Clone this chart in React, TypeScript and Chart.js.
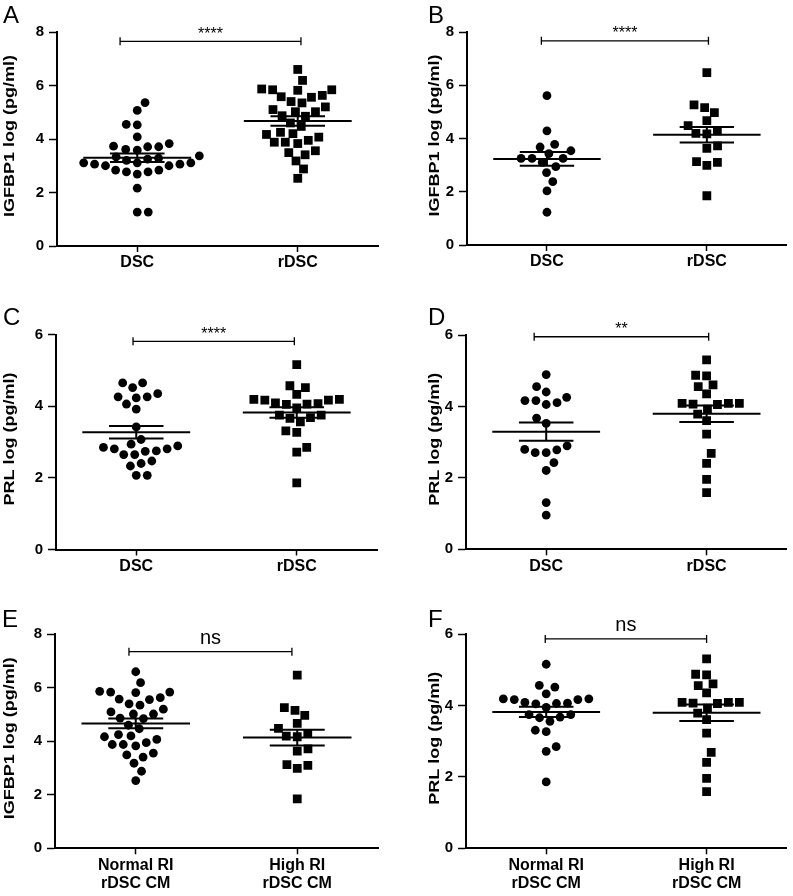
import React, { useEffect, useRef } from 'react';
import { Chart, registerables } from 'chart.js';

Chart.register(...registerables);

const FONT = '"Liberation Sans", Arial, Helvetica, sans-serif';

// ---------------- DATA ----------------
// Panel A: IGFBP1 (log pg/ml)
const IGFBP1_DSC_A = [5.36, 5.07, 4.55, 4.53, 4.08, 3.83, 3.73, 3.71, 3.71, 3.61, 3.58, 3.37, 3.33, 3.28, 3.25, 3.20, 3.11, 3.11, 3.11, 3.06, 3.06, 3.00, 3.00, 2.84, 2.84, 2.77, 2.77, 2.69, 2.16, 1.27, 1.27];
const IGFBP1_RDSC_A = [6.60, 6.19, 5.87, 5.84, 5.84, 5.82, 5.63, 5.58, 5.56, 5.40, 5.35, 5.20, 5.10, 5.02, 5.02, 4.87, 4.85, 4.60, 4.47, 4.25, 4.20, 4.17, 4.07, 3.95, 3.88, 3.88, 3.83, 3.56, 3.49, 3.41, 3.18, 2.88, 2.53];
// Panel B: IGFBP1
const IGFBP1_DSC_B = [5.61, 4.29, 3.78, 3.68, 3.54, 3.43, 3.25, 3.25, 3.25, 3.10, 2.94, 2.72, 2.38, 2.03, 1.23];
const IGFBP1_RDSC_B = [6.47, 5.26, 5.16, 4.97, 4.67, 4.48, 4.29, 4.19, 4.17, 3.72, 3.63, 3.13, 3.10, 2.99, 1.85];
// Panel C: PRL
const PRL_DSC_C = [4.65, 4.65, 4.52, 4.35, 4.26, 4.26, 4.23, 4.06, 3.92, 3.42, 3.07, 2.94, 2.89, 2.85, 2.81, 2.81, 2.75, 2.74, 2.65, 2.65, 2.47, 2.40, 2.33, 2.07, 2.07];
const PRL_RDSC_C = [5.16, 4.57, 4.52, 4.33, 4.19, 4.19, 4.17, 4.17, 4.09, 4.07, 4.06, 4.05, 3.95, 3.75, 3.75, 3.68, 3.66, 3.56, 3.31, 3.27, 2.85, 2.72, 1.86];
// Panel D: PRL
const PRL_DSC_D = [4.90, 4.56, 4.41, 4.26, 4.17, 4.17, 4.11, 4.06, 3.68, 3.53, 2.90, 2.80, 2.79, 2.71, 2.71, 2.43, 2.21, 1.31, 0.96];
const PRL_RDSC_D = [5.31, 4.88, 4.86, 4.61, 4.56, 4.36, 4.09, 4.09, 4.09, 4.07, 4.06, 3.93, 3.79, 3.61, 3.23, 2.69, 2.41, 1.96, 1.59];
// Panel E: IGFBP1, Normal RI vs High RI rDSC CM
const IGFBP1_NORMAL_RI_E = [6.60, 6.19, 5.87, 5.84, 5.84, 5.82, 5.63, 5.58, 5.56, 5.40, 5.35, 5.20, 5.10, 5.02, 5.02, 4.87, 4.85, 4.60, 4.47, 4.25, 4.20, 4.17, 4.07, 3.95, 3.88, 3.88, 3.83, 3.56, 3.49, 3.41, 3.18, 2.88, 2.53];
const IGFBP1_HIGH_RI_E = [6.47, 5.26, 5.16, 4.97, 4.67, 4.48, 4.29, 4.19, 4.17, 3.72, 3.63, 3.13, 3.10, 2.99, 1.85];
// Panel F: PRL, Normal RI vs High RI rDSC CM
const PRL_NORMAL_RI_F = [5.16, 4.57, 4.52, 4.33, 4.19, 4.19, 4.17, 4.17, 4.09, 4.07, 4.06, 4.05, 3.95, 3.75, 3.75, 3.68, 3.66, 3.56, 3.31, 3.27, 2.85, 2.72, 1.86];
const PRL_HIGH_RI_F = [5.31, 4.88, 4.86, 4.61, 4.56, 4.36, 4.09, 4.09, 4.09, 4.07, 4.06, 3.93, 3.79, 3.61, 3.23, 2.69, 2.41, 1.96, 1.59];

const DSC_LABELS: (string | string[])[] = ['DSC', 'rDSC'];
const RI_LABELS: (string | string[])[] = [['Normal RI', 'rDSC CM'], ['High RI', 'rDSC CM']];
const IGFBP1_TICKS = [0, 2, 4, 6, 8];
const PRL_TICKS = [0, 2, 4, 6];
const IGFBP1_TITLE = 'IGFBP1 log (pg/ml)';
const PRL_TITLE = 'PRL log (pg/ml)';

// ---------------- STYLE / LAYOUT ----------------
const MEAN_HALF = 0.336;
const CAP_HALF = 0.17;
const SWARM_D = 11;
const CIRCLE_R = 4.4;
const SQUARE_R = 6.2;

type Panel = {
  letter: string;
  left: number; top: number; width: number; height: number;
  area: { left: number; top: number; right: number; bottom: number };
  yMax: number; yTicks: number[]; yTitle: string; xLabels: (string | string[])[];
  g0: number[]; g1: number[];
  sig: string; bracketY: number; bracket: [number, number];
  titleX: number; letterPos: [number, number];
};

const PANELS: Panel[] = [
  { letter: 'A', left: 0, top: 0, width: 390, height: 280, area: { left: 57, top: 32, right: 378, bottom: 246 },
    yMax: 8, yTicks: IGFBP1_TICKS, yTitle: IGFBP1_TITLE, xLabels: DSC_LABELS, g0: IGFBP1_DSC_A, g1: IGFBP1_RDSC_A,
    sig: '****', bracketY: 7.65, bracket: [-0.107, 1.02], titleX: 10, letterPos: [3, 23] },
  { letter: 'B', left: 420, top: 0, width: 373, height: 280, area: { left: 47, top: 32, right: 368, bottom: 245 },
    yMax: 8, yTicks: IGFBP1_TICKS, yTitle: IGFBP1_TITLE, xLabels: DSC_LABELS, g0: IGFBP1_DSC_B, g1: IGFBP1_RDSC_B,
    sig: '****', bracketY: 7.67, bracket: [-0.035, 1.01], titleX: 15, letterPos: [8, 23] },
  { letter: 'C', left: 0, top: 290, width: 390, height: 290, area: { left: 56, top: 44.5, right: 377, bottom: 259.5 },
    yMax: 6, yTicks: PRL_TICKS, yTitle: PRL_TITLE, xLabels: DSC_LABELS, g0: PRL_DSC_C, g1: PRL_RDSC_C,
    sig: '****', bracketY: 5.81, bracket: [-0.02, 0.985], titleX: 10, letterPos: [3, 35] },
  { letter: 'D', left: 420, top: 290, width: 373, height: 290, area: { left: 46, top: 45.3, right: 367, bottom: 259.3 },
    yMax: 6, yTicks: PRL_TICKS, yTitle: PRL_TITLE, xLabels: DSC_LABELS, g0: PRL_DSC_D, g1: PRL_RDSC_D,
    sig: '**', bracketY: 5.96, bracket: [-0.075, 1.013], titleX: 15, letterPos: [8, 35] },
  { letter: 'E', left: 0, top: 590, width: 390, height: 306, area: { left: 55, top: 44.3, right: 378, bottom: 258.3 },
    yMax: 8, yTicks: IGFBP1_TICKS, yTitle: IGFBP1_TITLE, xLabels: RI_LABELS, g0: IGFBP1_NORMAL_RI_E, g1: IGFBP1_HIGH_RI_E,
    sig: 'ns', bracketY: 7.35, bracket: [-0.042, 0.967], titleX: 10, letterPos: [2, 37] },
  { letter: 'F', left: 420, top: 590, width: 373, height: 306, area: { left: 46, top: 44.3, right: 367, bottom: 258.3 },
    yMax: 6, yTicks: PRL_TICKS, yTitle: PRL_TITLE, xLabels: RI_LABELS, g0: PRL_NORMAL_RI_F, g1: PRL_HIGH_RI_F,
    sig: 'ns', bracketY: 5.87, bracket: [-0.006, 1.0], titleX: 15, letterPos: [8, 37] },
];

// Beeswarm offsets (in x-axis units) derived from the values
function swarm(values: number[], pxX: number, pxY: number, d: number): number[] {
  const order = values.map((_, i) => i).sort((a, b) => values[a] - values[b]);
  const placed: { x: number; y: number }[] = [];
  const out = new Array(values.length).fill(0);
  let side = 1;
  for (const i of order) {
    const y = values[i] * pxY;
    const near = placed.filter((p) => Math.abs(p.y - y) < d);
    const cands = [0];
    for (const p of near) {
      const dx = Math.sqrt(d * d - (p.y - y) * (p.y - y));
      cands.push(p.x + dx, p.x - dx);
    }
    cands.sort((a, b) => {
      const diff = Math.abs(a) - Math.abs(b);
      if (Math.abs(diff) > 1e-6) return diff;
      return (b - a) * side;
    });
    let x = 0;
    for (const c of cands) {
      if (near.every((p) => (p.x - c) * (p.x - c) + (p.y - y) * (p.y - y) >= d * d - 1e-3)) { x = c; break; }
    }
    if (Math.abs(x) > 1e-6) side = x > 0 ? -1 : 1;
    placed.push({ x, y });
    out[i] = x / pxX;
  }
  return out;
}

function stats(vals: number[]) {
  const n = vals.length;
  const m = vals.reduce((s, v) => s + v, 0) / n;
  const sd = Math.sqrt(vals.reduce((s, v) => s + (v - m) * (v - m), 0) / (n - 1));
  return { m, sem: sd / Math.sqrt(n) };
}

function summarySegments(c: number, vals: number[]) {
  const { m, sem } = stats(vals);
  return [
    [{ x: c - MEAN_HALF, y: m }, { x: c + MEAN_HALF, y: m }],
    [{ x: c - CAP_HALF, y: m + sem }, { x: c + CAP_HALF, y: m + sem }],
    [{ x: c - CAP_HALF, y: m - sem }, { x: c + CAP_HALF, y: m - sem }],
    [{ x: c, y: m - sem }, { x: c, y: m + sem }],
  ];
}

function PanelChart({ p }: { p: Panel }) {
  const ref = useRef<HTMLCanvasElement>(null);
  useEffect(() => {
    const canvas = ref.current;
    if (!canvas) return;
    const a = p.area;
    const pxX = (a.right - a.left) / 2;
    const pxY = (a.bottom - a.top) / p.yMax;
    const j0 = swarm(p.g0, pxX, pxY, SWARM_D);
    const j1 = swarm(p.g1, pxX, pxY, SWARM_D);
    const pts0 = p.g0.map((v, i) => ({ x: 0 + j0[i], y: v }));
    const pts1 = p.g1.map((v, i) => ({ x: 1 + j1[i], y: v }));

    const lineSets = [...summarySegments(0, p.g0), ...summarySegments(1, p.g1)].map((seg) => ({
      type: 'line' as const,
      data: seg,
      borderColor: '#000',
      borderWidth: 2,
      pointRadius: 0,
      fill: false,
      borderCapStyle: 'butt' as const,
    }));

    const decor = {
      id: 'panelDecor',
      afterDraw(chart: any) {
        const { ctx, chartArea } = chart;
        const xs = chart.scales.x;
        const ys = chart.scales.y;
        ctx.save();
        ctx.fillStyle = '#000';
        ctx.strokeStyle = '#000';
        // panel letter
        ctx.font = `24px ${FONT}`;
        ctx.textAlign = 'left';
        ctx.textBaseline = 'alphabetic';
        ctx.fillText(p.letter, p.letterPos[0], p.letterPos[1]);
        // y title
        ctx.save();
        ctx.translate(p.titleX, (chartArea.top + chartArea.bottom) / 2 - 3);
        ctx.rotate(-Math.PI / 2);
        ctx.scale(1.2, 1);
        ctx.font = `bold 15px ${FONT}`;
        ctx.textAlign = 'center';
        ctx.textBaseline = 'middle';
        ctx.fillText(p.yTitle, 0, 0);
        ctx.restore();
        // significance bracket
        const x0 = xs.getPixelForValue(p.bracket[0]);
        const x1 = xs.getPixelForValue(p.bracket[1]);
        const yb = ys.getPixelForValue(p.bracketY);
        ctx.lineWidth = 1.3;
        ctx.beginPath();
        ctx.moveTo(x0, yb); ctx.lineTo(x1, yb);
        ctx.moveTo(x0, yb - 4); ctx.lineTo(x0, yb + 4);
        ctx.moveTo(x1, yb - 4); ctx.lineTo(x1, yb + 4);
        ctx.stroke();
        const isNs = p.sig === 'ns';
        ctx.font = `${isNs ? 20 : 16}px ${FONT}`;
        ctx.textAlign = 'center';
        ctx.textBaseline = 'alphabetic';
        ctx.fillText(p.sig, (x0 + x1) / 2, yb - (isNs ? 8 : 2.5));
        ctx.restore();
      },
    };

    const chart = new Chart(canvas, {
      type: 'scatter',
      data: {
        datasets: [
          ...lineSets,
          { data: pts0, pointStyle: 'circle', pointRadius: CIRCLE_R, pointHoverRadius: CIRCLE_R, backgroundColor: '#000', borderWidth: 0 },
          { data: pts1, pointStyle: 'rect', pointRadius: SQUARE_R, pointHoverRadius: SQUARE_R, backgroundColor: '#000', borderWidth: 0 },
        ] as any,
      },
      options: {
        responsive: false,
        animation: false,
        devicePixelRatio: 1,
        events: [],
        layout: { padding: { left: 0, top: a.top, right: p.width - a.right, bottom: 0 } },
        plugins: { legend: { display: false }, tooltip: { enabled: false } },
        scales: {
          x: {
            type: 'linear',
            min: -0.5,
            max: 1.5,
            afterBuildTicks: (s: any) => { s.ticks = [{ value: 0 }, { value: 1 }]; },
            afterFit: (s: any) => { s.height = p.height - a.bottom; },
            ticks: {
              callback: (v: any) => p.xLabels[v as number] as any,
              font: { family: FONT, size: 16, weight: 'bold', lineHeight: 1.12 },
              color: '#000',
              padding: 2,
              maxRotation: 0,
              minRotation: 0,
              autoSkip: false,
            },
            grid: { display: true, drawOnChartArea: false, drawTicks: true, tickLength: 6, tickWidth: 1.5, tickColor: '#000' },
            border: { display: true, color: '#000', width: 2 },
          },
          y: {
            type: 'linear',
            min: 0,
            max: p.yMax,
            afterBuildTicks: (s: any) => { s.ticks = p.yTicks.map((v) => ({ value: v })); },
            afterFit: (s: any) => { s.width = a.left; },
            ticks: {
              callback: (v: any) => String(v),
              font: { family: FONT, size: 15, weight: 'bold' },
              color: '#000',
              padding: 5,
            },
            grid: { display: true, drawOnChartArea: false, drawTicks: true, tickLength: 8, tickWidth: 1.5, tickColor: '#000' },
            border: { display: true, color: '#000', width: 2 },
          },
        },
      } as any,
      plugins: [decor],
    });
    return () => chart.destroy();
  }, [p]);
  return (
    <canvas
      ref={ref}
      width={p.width}
      height={p.height}
      style={{ position: 'absolute', left: p.left, top: p.top, width: p.width, height: p.height }}
    />
  );
}

export default function App() {
  return (
    <div style={{ position: 'absolute', left: 0, top: 0, width: 793, height: 896, background: '#fff', overflow: 'hidden' }}>
      {PANELS.map((p) => (
        <PanelChart key={p.letter} p={p} />
      ))}
    </div>
  );
}
